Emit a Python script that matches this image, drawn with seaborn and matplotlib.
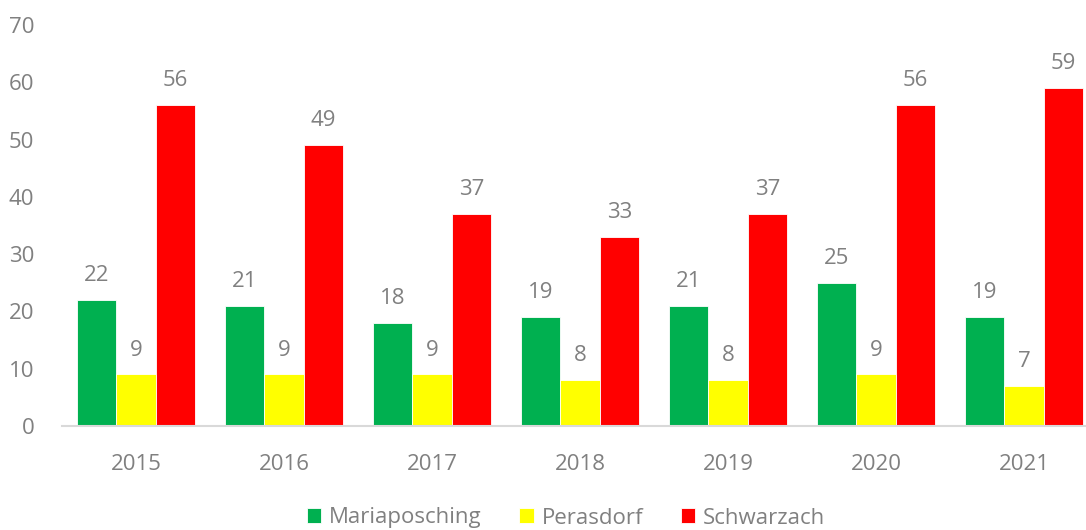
import matplotlib
matplotlib.use("Agg")
import seaborn as sns
import matplotlib.pyplot as plt
import pandas as pd

jahre = ["2015", "2016", "2017", "2018", "2019", "2020", "2021"]
mariaposching = [22, 21, 18, 19, 21, 25, 19]
perasdorf = [9, 9, 9, 8, 8, 9, 7]
schwarzach = [56, 49, 37, 33, 37, 56, 59]

orte = ["Mariaposching", "Perasdorf", "Schwarzach"]
farben = ["#00B050", "#FFFF00", "#FF0000"]

df = pd.DataFrame({
    "Jahr": jahre * 3,
    "Ort": [orte[0]] * 7 + [orte[1]] * 7 + [orte[2]] * 7,
    "Wert": mariaposching + perasdorf + schwarzach,
})

sns.set_style("white")
plt.rcParams["font.family"] = ["Open Sans", "DejaVu Sans"]
grau = "#808080"

fig = plt.figure(figsize=(10.86, 5.30), dpi=100)
ax = fig.add_axes([62 / 1086, 104 / 530, 1036 / 1086, 401 / 530])

sns.barplot(data=df, x="Jahr", y="Wert", hue="Ort", palette=farben,
            width=0.8, edgecolor="white", linewidth=0.6, saturation=1,
            ax=ax, legend=True)

for cont in ax.containers:
    ax.bar_label(cont, padding=10, fontsize=16, color=grau)

ax.set_ylim(0, 70)
ax.set_yticks(range(0, 71, 10))
ax.set_xlabel("")
ax.set_ylabel("")
ax.tick_params(axis="both", labelsize=16, colors=grau, length=0)
ax.tick_params(axis="x", pad=20)
ax.tick_params(axis="y", pad=20)
for s in ["top", "right", "left"]:
    ax.spines[s].set_visible(False)
ax.spines["bottom"].set_color("#D9D9D9")
ax.spines["bottom"].set_linewidth(1.5)

handles, labels = ax.get_legend_handles_labels()
ax.get_legend().remove()
leg = fig.legend(handles, labels, loc="center", bbox_to_anchor=(566 / 1086, 12 / 530),
                 ncol=3, frameon=False, fontsize=16, handlelength=0.65, handleheight=0.65,
                 handletextpad=0.35, columnspacing=1.7)
for t in leg.get_texts():
    t.set_color(grau)

fig.savefig("out.png", dpi=100)
